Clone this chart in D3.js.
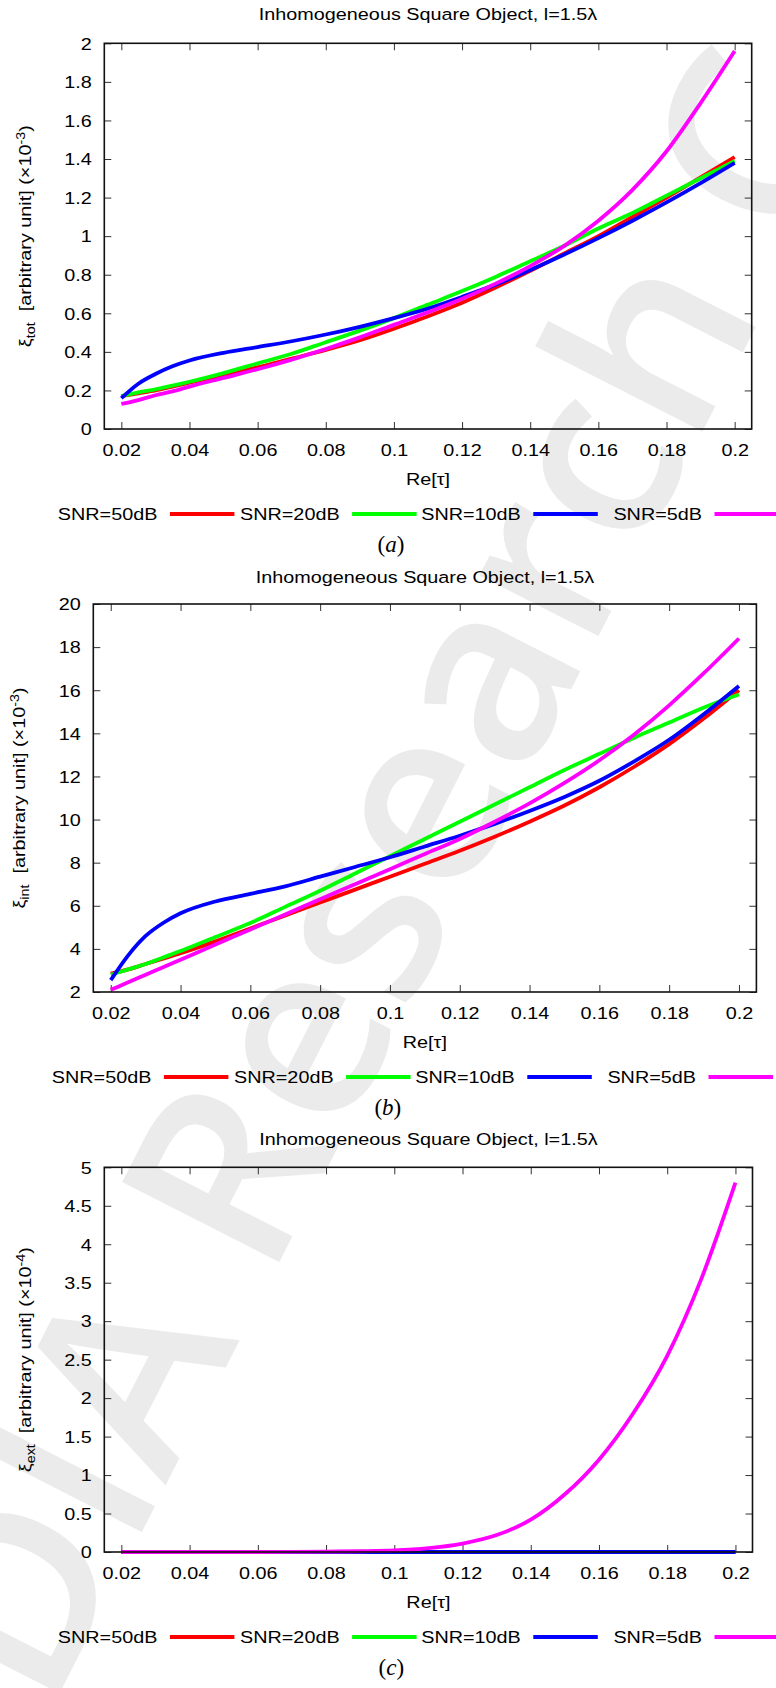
<!DOCTYPE html>
<html><head><meta charset="utf-8">
<script src="https://cdn.jsdelivr.net/npm/d3@7"></script>
<style>
body{margin:0;background:#fff}
svg{display:block}
text{font-family:"Liberation Sans",Arial,sans-serif;fill:#000}
</style></head><body>
<svg id="c" width="776" height="1688"></svg>
<script>
// ---------------- data ----------------
const xValues = [0.02,0.025,0.03,0.035,0.04,0.05,0.06,0.07,0.08,0.09,0.1,0.11,0.12,0.13,0.14,0.15,0.16,0.17,0.18,0.19,0.2];
const seriesNames = ["SNR=50dB","SNR=20dB","SNR=10dB","SNR=5dB"];
const seriesColors = ["#ff0000","#00ff00","#0000ff","#ff00ff"];
const xTicks = [0.02,0.04,0.06,0.08,0.1,0.12,0.14,0.16,0.18,0.2];
const xTickLabels = ["0.02","0.04","0.06","0.08","0.1","0.12","0.14","0.16","0.18","0.2"];
const titleText = "Inhomogeneous Square Object, l=1.5\u03bb";
const xLabelText = "Re[\u03c4]";

// (a) xi_tot  (x10^-3)
const totTicks = [0,0.2,0.4,0.6,0.8,1,1.2,1.4,1.6,1.8,2];
const totTickLabels = ["0","0.2","0.4","0.6","0.8","1","1.2","1.4","1.6","1.8","2"];
const tot50 = [0.17,0.185,0.20,0.22,0.24,0.28,0.32,0.365,0.41,0.46,0.52,0.585,0.655,0.735,0.82,0.91,1.0,1.1,1.2,1.305,1.41];
const tot20 = [0.17,0.19,0.205,0.225,0.245,0.29,0.34,0.39,0.45,0.51,0.575,0.645,0.715,0.79,0.87,0.95,1.04,1.12,1.21,1.30,1.39];
const tot10 = [0.16,0.235,0.285,0.325,0.355,0.395,0.425,0.455,0.49,0.53,0.575,0.625,0.685,0.75,0.825,0.905,0.99,1.08,1.175,1.275,1.38];
const tot5  = [0.13,0.15,0.175,0.195,0.22,0.265,0.31,0.36,0.415,0.475,0.54,0.605,0.675,0.755,0.845,0.95,1.08,1.24,1.44,1.69,1.96];

// (b) xi_int  (x10^-3)
const intTicks = [2,4,6,8,10,12,14,16,18,20];
const intTickLabels = ["2","4","6","8","10","12","14","16","18","20"];
const int50 = [2.85,3.05,3.3,3.55,3.8,4.35,4.95,5.55,6.15,6.75,7.35,7.95,8.55,9.2,9.9,10.65,11.5,12.45,13.5,14.7,16.0];
const int20 = [2.8,3.05,3.3,3.6,3.9,4.55,5.2,5.95,6.7,7.5,8.3,9.1,9.9,10.7,11.5,12.3,13.05,13.8,14.5,15.2,15.8];
const int10 = [2.55,3.7,4.6,5.2,5.65,6.2,6.55,6.9,7.35,7.8,8.25,8.75,9.25,9.8,10.4,11.05,11.8,12.7,13.7,14.9,16.2];
const int5  = [2.1,2.45,2.8,3.15,3.5,4.2,4.9,5.6,6.3,7.0,7.7,8.4,9.1,9.9,10.75,11.7,12.75,13.95,15.3,16.8,18.4];

// (c) xi_ext  (x10^-4)
const extTicks = [0,0.5,1,1.5,2,2.5,3,3.5,4,4.5,5];
const extTickLabels = ["0","0.5","1","1.5","2","2.5","3","3.5","4","4.5","5"];
const ext50 = [0,0,0,0,0,0,0,0,0,0,0,0,0,0,0,0,0,0,0,0,0];
const ext20 = [0,0,0,0,0,0,0,0,0,0,0,0,0,0,0,0,0,0,0,0,0];
const ext10 = [0,0,0,0,0,0,0,0,0,0,0,0,0,0,0,0,0,0,0,0,0];
const ext5  = [0,0,0,0,0,0,0,0.002,0.005,0.01,0.02,0.05,0.11,0.22,0.42,0.75,1.2,1.8,2.55,3.55,4.8];

// ---------------- layout ----------------
const SX = 1.2; // horizontal stretch of the sans text
const svg = d3.select("#c");

// watermark
svg.append("text")
  .attr("transform","translate(49,1714) rotate(-63)")
  .style("font-family","'Open Sans','DejaVu Sans',sans-serif")
  .style("font-weight","600")
  .style("font-size","247px")
  .style("fill","#ebebeb")
  .text("DIA Research C");

const panels = [
  {box:{l:104.3,r:751.7,t:43.3,b:429}, yDomain:[0,2], ticks:totTicks, tickLabels:totTickLabels,
   data:[tot50,tot20,tot10,tot5], sub:"tot", exp:"-3", ylabX:31, titleY:20, legShift:0, cap:"a"},
  {box:{l:93.3,r:756.4,t:604,b:992}, yDomain:[2,20], ticks:intTicks, tickLabels:intTickLabels,
   data:[int50,int20,int10,int5], sub:"int", exp:"-3", ylabX:25, titleY:583, legShift:-6, cap:"b"},
  {box:{l:104.3,r:752.5,t:1167.3,b:1552}, yDomain:[0,5], ticks:extTicks, tickLabels:extTickLabels,
   data:[ext50,ext20,ext10,ext5], sub:"ext", exp:"-4", ylabX:31, titleY:1145, legShift:0, cap:"c"}
];

function stretchedText(g, x, y, anchor, size){
  return g.append("text")
    .attr("transform",`translate(${x},${y}) scale(${SX},1)`)
    .attr("text-anchor",anchor)
    .style("font-size",size+"px");
}

panels.forEach(p=>{
  const B = p.box;
  const g = svg.append("g");
  const x = d3.scaleLinear().domain([0.015,0.205]).range([B.l,B.r]);
  const y = d3.scaleLinear().domain(p.yDomain).range([B.b,B.t]);
  const cx = (B.l+B.r)/2, cy = (B.t+B.b)/2;

  // title
  stretchedText(g, cx, p.titleY, "middle", 16.5).text(titleText);

  // axes (ticks inward, mirrored)
  const tickStyle = sel=>{ sel.select(".domain").remove(); sel.selectAll(".tick line").attr("stroke","#333").attr("stroke-width",1); };
  const bx = g.append("g").attr("transform",`translate(0,${B.b})`)
    .call(d3.axisBottom(x).tickValues(xTicks).tickFormat((d,i)=>xTickLabels[i]).tickSize(-7).tickPadding(0));
  tickStyle(bx);
  bx.selectAll(".tick text").attr("y",null).attr("dy",null)
    .attr("transform",`translate(0,26.5) scale(${SX},1)`).style("font-size","16.5px").style("font-family",null);
  const tx = g.append("g").attr("transform",`translate(0,${B.t})`)
    .call(d3.axisTop(x).tickValues(xTicks).tickFormat("").tickSize(-7));
  tickStyle(tx);
  const ly = g.append("g").attr("transform",`translate(${B.l},0)`)
    .call(d3.axisLeft(y).tickValues(p.ticks).tickFormat((d,i)=>p.tickLabels[i]).tickSize(-7).tickPadding(0));
  tickStyle(ly);
  ly.selectAll(".tick text").attr("x",null).attr("dy",null)
    .attr("transform",`translate(-12.5,5.8) scale(${SX},1)`).style("font-size","16.5px").style("font-family",null);
  const ry = g.append("g").attr("transform",`translate(${B.r},0)`)
    .call(d3.axisRight(y).tickValues(p.ticks).tickFormat("").tickSize(-7));
  tickStyle(ry);
  g.selectAll(".tick text").attr("fill","#000");

  // curves
  const line = d3.line().x((d,i)=>x(xValues[i])).y(d=>y(d)).curve(d3.curveMonotoneX);
  p.data.forEach((s,k)=>{
    g.append("path").datum(s).attr("d",line).attr("fill","none")
      .attr("stroke",seriesColors[k]).attr("stroke-width",3.8).attr("stroke-linejoin","round");
  });

  // frame
  g.append("rect").attr("x",B.l).attr("y",B.t).attr("width",B.r-B.l).attr("height",B.b-B.t)
    .attr("fill","none").attr("stroke","#111").attr("stroke-width",1.6);

  // x label
  stretchedText(g, cx, B.b+56, "middle", 16.5).text(xLabelText);

  // y label
  const yl = g.append("text")
    .attr("transform",`translate(${p.ylabX},${cy}) rotate(-90) scale(${SX},1)`)
    .attr("text-anchor","middle").style("font-size","16.5px");
  yl.append("tspan").text("\u03be");
  yl.append("tspan").attr("dy",4).style("font-size","12px").text(p.sub);
  yl.append("tspan").attr("dy",-4).text("\u00a0\u00a0[arbitrary unit] (\u00d710");
  yl.append("tspan").attr("dy",-6).style("font-size","12px").text(p.exp);
  yl.append("tspan").attr("dy",6).text(")");

  // legend
  const legY = B.b+85;
  const textEnds = [157.4,339.6,520.8,702];
  seriesNames.forEach((n,k)=>{
    const te = textEnds[k]+p.legShift;
    stretchedText(g, te, legY+5.8, "end", 16.5).text(n);
    g.append("line").attr("x1",te+12.5).attr("x2",te+77).attr("y1",legY).attr("y2",legY)
      .attr("stroke",seriesColors[k]).attr("stroke-width",4);
  });

  // caption
  const cap = g.append("text").attr("x",cx-37).attr("y",B.b+123).attr("text-anchor","middle")
    .style("font-family","'Liberation Serif','DejaVu Serif',serif").style("font-size","23px");
  cap.append("tspan").text("(");
  cap.append("tspan").style("font-style","italic").text(p.cap);
  cap.append("tspan").text(")");
});
</script>
</body></html>
